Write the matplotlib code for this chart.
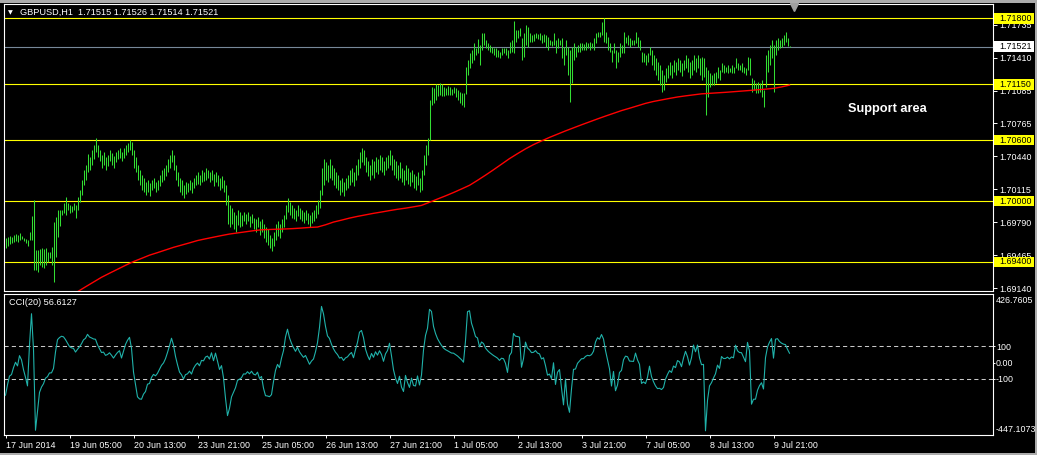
import numpy as np
import pandas as pd
import matplotlib
matplotlib.use("Agg")
import matplotlib.pyplot as plt
import matplotlib.transforms as mtransforms
from matplotlib.patches import Rectangle

plt.rcParams['font.family'] = ['Liberation Sans', 'DejaVu Sans']

# ---------------- data ----------------
symbol_header = "GBPUSD,H1  1.71515 1.71526 1.71514 1.71521"
cci_header = "CCI(20) 56.6127"

BASE = 1.69      # prices below are stored in pips above 1.6900
PIP = 0.0001

# 20 hourly bars before the first visible bar (needed for CCI(20))
pre_high_pips = [72, 74, 70, 73, 71, 75, 73, 70, 72, 74, 71, 69, 72, 70, 68, 71, 69, 67, 66, 65]
pre_low_pips = [62, 64, 61, 63, 62, 64, 65, 61, 63, 65, 62, 60, 63, 61, 60, 62, 61, 59, 58, 57]

high_pips = [
    64, 65, 66, 65, 67, 68, 67, 69, 66, 64,
    63, 62, 70, 85, 101, 52, 52, 53, 54, 53,
    54, 50, 50, 55, 79, 84, 91, 91, 91, 98,
    104, 98, 96, 95, 98, 96, 104, 111, 121, 131,
    136, 146, 143, 150, 155, 162, 155, 150, 145, 148,
    143, 145, 150, 147, 144, 148, 150, 152, 148, 152,
    155, 157, 160, 158, 150, 143, 136, 131, 126, 123,
    119, 121, 118, 121, 123, 119, 121, 126, 131, 133,
    136, 141, 145, 150, 145, 136, 129, 123, 121, 116,
    119, 118, 121, 119, 123, 126, 129, 126, 131, 129,
    133, 131, 129, 131, 127, 129, 126, 123, 125, 121,
    116, 106, 96, 93, 89, 86, 91, 89, 86, 89,
    87, 89, 85, 87, 83, 82, 84, 80, 82, 77,
    74, 72, 67, 64, 70, 77, 80, 77, 82, 86,
    96, 103, 99, 96, 93, 91, 96, 93, 91, 89,
    91, 88, 86, 89, 91, 96, 101, 111, 133, 141,
    138, 136, 141, 136, 133, 129, 126, 121, 123, 119,
    123, 126, 131, 133, 129, 136, 141, 148, 152, 150,
    143, 139, 136, 141, 139, 143, 141, 145, 143, 139,
    143, 145, 150, 145, 141, 139, 136, 138, 133, 131,
    136, 133, 129, 131, 127, 125, 129, 123, 131, 145,
    155, 162, 200, 212, 211, 215, 214, 216, 215, 212,
    211, 213, 212, 210, 212, 211, 209, 207, 206, 206,
    232, 239, 246, 249, 256, 251, 260, 254, 266, 266,
    259, 256, 254, 252, 251, 251, 249, 247, 251, 251,
    251, 249, 257, 259, 277, 268, 268, 270, 261, 266,
    273, 271, 266, 264, 265, 266, 265, 266, 264, 265,
    264, 262, 259, 258, 266, 259, 261, 259, 261, 252,
    259, 252, 249, 252, 256, 252, 254, 256, 256, 255,
    257, 256, 257, 256, 261, 266, 267, 267, 276, 280,
    267, 262, 256, 249, 256, 249, 247, 256, 254, 267,
    262, 264, 261, 259, 259, 267, 262, 259, 247, 246,
    244, 246, 252, 249, 244, 241, 237, 234, 229, 224,
    231, 234, 237, 234, 239, 237, 241, 239, 236, 239,
    244, 241, 237, 239, 244, 241, 244, 241, 242, 241,
    232, 229, 226, 224, 226, 227, 232, 229, 236, 234,
    232, 234, 231, 234, 232, 241, 236, 234, 236, 232,
    231, 242, 241, 221, 219, 216, 217, 216, 219, 209,
    244, 249, 254, 259, 254, 259, 261, 259, 261, 264,
    267, 261, 252.6,
]

low_pips = [
    54, 56, 58, 59, 60, 61, 60, 62, 63, 61,
    59, 56, 62, 62, 32, 32, 30, 37, 35, 34,
    37, 40, 44, 37, 20, 45, 65, 75, 86, 88,
    86, 91, 88, 89, 91, 83, 91, 99, 106, 116,
    121, 129, 131, 136, 141, 148, 143, 139, 133, 136,
    131, 135, 139, 136, 133, 138, 141, 142, 139, 142,
    145, 148, 150, 145, 133, 129, 121, 116, 111, 109,
    106, 109, 105, 111, 113, 109, 111, 115, 119, 121,
    125, 129, 133, 138, 131, 121, 115, 109, 106, 103,
    107, 109, 111, 108, 113, 116, 117, 116, 119, 120,
    121, 123, 119, 121, 115, 119, 115, 111, 113, 109,
    96, 77, 74, 77, 72, 70, 76, 74, 75, 80,
    77, 80, 74, 78, 72, 70, 74, 67, 70, 64,
    60, 57, 54, 51, 56, 62, 66, 64, 70, 74,
    82, 89, 86, 83, 82, 80, 85, 82, 80, 78,
    81, 77, 74, 78, 80, 83, 87, 93, 106, 116,
    121, 119, 123, 121, 116, 113, 111, 106, 109, 105,
    111, 113, 116, 119, 115, 121, 126, 133, 138, 136,
    129, 125, 121, 126, 123, 129, 127, 131, 129, 126,
    131, 133, 136, 131, 126, 123, 121, 123, 119, 116,
    121, 117, 115, 119, 113, 111, 116, 109, 111, 126,
    136, 145, 160, 195, 197, 200, 203, 204, 203, 203,
    204, 204, 204, 204, 206, 202, 200, 197, 195, 193,
    205, 224, 231, 236, 239, 244, 246, 234, 249, 254,
    251, 249, 247, 246, 244, 242, 242, 241, 244, 246,
    244, 241, 246, 247, 246, 257, 261, 263, 239, 242,
    254, 252, 257, 257, 258, 261, 260, 259, 256, 257,
    252, 249, 254, 253, 254, 246, 251, 254, 241, 234,
    244, 224, 198, 216, 239, 242, 247, 247, 249, 249,
    249, 251, 249, 251, 249, 256, 262, 262, 264, 257,
    256, 249, 247, 237, 246, 231, 237, 242, 246, 246,
    256, 254, 252, 254, 254, 256, 252, 249, 237, 237,
    234, 237, 244, 234, 229, 224, 219, 214, 207, 209,
    217, 221, 224, 221, 227, 224, 229, 227, 223, 229,
    231, 227, 221, 224, 229, 227, 231, 224, 219, 222,
    185, 202, 212, 214, 214, 216, 221, 219, 227, 226,
    227, 226, 227, 226, 226, 231, 229, 229, 227, 226,
    224, 229, 224, 207, 209, 206, 206, 207, 202, 193,
    212, 227, 234, 241, 207, 244, 249, 251, 252, 254,
    257, 253, 251.4,
]

# red moving average, read every 4th bar starting at bar 36
ma_first_bar = 36
ma_bar_step = 4
ma_pips = [
    10.7, 15.5, 20.2, 24.9, 28.9, 32.8, 36.7, 40.4, 43.5, 46.7,
    49.2, 51.8, 54.4, 56.6, 58.8, 61.1, 62.8, 64.4, 66.0, 67.5,
    68.6, 69.7, 70.8, 71.7, 72.0, 72.3, 72.5, 72.9, 73.4, 74.0,
    74.4, 76.6, 79.3, 81.2, 83.2, 84.9, 86.4, 87.9, 89.2, 90.6,
    91.9, 93.0, 94.3, 95.7, 98.8, 102.0, 105.1, 108.4, 111.9, 115.5,
    120.4, 125.5, 130.8, 136.3, 141.8, 146.7, 151.4, 155.6, 159.2, 162.7,
    165.9, 169.1, 172.1, 175.1, 178.0, 180.9, 183.7, 186.4, 189.1, 191.4,
    193.8, 196.2, 198.1, 199.6, 201.1, 202.5, 203.6, 204.6, 205.6, 206.1,
    206.6, 207.1, 207.7, 208.3, 208.9, 209.6, 210.2, 211.0, 212.4, 214.2,
]

levels = [1.71800, 1.71150, 1.70600, 1.70000, 1.69400]
level_labels = ["1.71800", "1.71150", "1.70600", "1.70000", "1.69400"]
current_price = 1.71521
current_label = "1.71521"
price_ticks = [1.71735, 1.71410, 1.71085, 1.70765, 1.70440, 1.70115, 1.69790, 1.69465, 1.69140]
price_min, price_max = 1.69114, 1.71938

cci_period = 20
cci_ticks = [100, 0, -100]
cci_tick_labels = ["100", "0.00", "-100"]
cci_min, cci_max = -447.1073, 426.7605
cci_max_label, cci_min_label = "426.7605", "-447.1073"

time_tick_bars = [0, 32, 64, 96, 128, 160, 192, 224, 256, 288, 320, 352, 384]
time_tick_labels = ["17 Jun 2014", "19 Jun 05:00", "20 Jun 13:00", "23 Jun 21:00",
                    "25 Jun 05:00", "26 Jun 13:00", "27 Jun 21:00", "1 Jul 05:00",
                    "2 Jul 13:00", "3 Jul 21:00", "7 Jul 05:00", "8 Jul 13:00",
                    "9 Jul 21:00"]

annotation_text = "Support area"
annotation_bar = 421
annotation_price = 1.7091
shift_marker_bar = 394

assert len(high_pips) == len(low_pips)
assert len(pre_high_pips) == len(pre_low_pips)

# ---------------- derived ----------------
high = BASE + np.array(high_pips) * PIP
low = BASE + np.array(low_pips) * PIP
n = len(high)
bars = np.arange(n)
ma = BASE + np.array(ma_pips) * PIP
ma_bars = np.arange(ma_first_bar, ma_first_bar + ma_bar_step * len(ma_pips), ma_bar_step)

all_high = np.concatenate([BASE + np.array(pre_high_pips) * PIP, high])
all_low = np.concatenate([BASE + np.array(pre_low_pips) * PIP, low])
tp = pd.Series((all_high + all_low) / 2.0)
sma = tp.rolling(cci_period).mean()
mad = tp.rolling(cci_period).apply(lambda w: np.mean(np.abs(w - w.mean())), raw=True)
cci = ((tp - sma) / (0.015 * mad)).values[len(pre_high_pips):]

# ---------------- figure ----------------
W, H = 1037, 455
fig = plt.figure(figsize=(W / 100, H / 100), dpi=100, facecolor="black")

def fx(px):
    return px / W

def fy(py):
    return 1 - py / H

L, R = 4, 992.5
ax = fig.add_axes([fx(L), fy(291), fx(R) - fx(L), fy(4.3) - fy(291)])
axc = fig.add_axes([fx(L), fy(435), fx(R) - fx(L), fy(293.5) - fy(435)], sharex=ax)

BAR = "#33dd33"
FS = 6.4
for a in (ax, axc):
    a.set_facecolor("black")
    for s in a.spines.values():
        s.set_color("white")
        s.set_linewidth(0.8)

ax.set_xlim(-0.75, 493.5)
ax.set_ylim(price_min, price_max)
axc.set_ylim(cci_min, cci_max)

# price bars
ax.vlines(bars, low, high, colors=BAR, linewidth=0.75, zorder=3)
# moving average
ax.plot(ma_bars, ma, color="#ff0000", linewidth=1.0, zorder=4)
# horizontal levels
for lv in levels:
    ax.axhline(lv, color="#ffff00", linewidth=0.8, zorder=2)
ax.axhline(current_price, color="#778899", linewidth=0.8, zorder=2)

# right price scale
ax.yaxis.tick_right()
ax.set_yticks(price_ticks)
ax.set_yticklabels([f"{v:.5f}" for v in price_ticks])
ax.tick_params(axis="y", colors="white", length=2.9, width=0.7, pad=1.8, labelsize=FS)
ax.tick_params(axis="x", bottom=False, labelbottom=False)

# level label boxes
trans = mtransforms.blended_transform_factory(fig.transFigure, ax.transData)
ax_h_px = (fy(4.3) - fy(291)) * H
price_per_px = (price_max - price_min) / ax_h_px
box_h = 10.7 * price_per_px
for lv, lab, fc in list(zip(levels, level_labels, ["#ffff00"] * len(levels))) + [(current_price, current_label, "white")]:
    ax.add_patch(Rectangle((fx(994.3), lv - box_h / 2), fx(1034) - fx(994.3), box_h,
                           transform=trans, facecolor=fc, edgecolor="none",
                           clip_on=False, zorder=5))
    ax.text(fx(999.3), lv, lab, transform=trans, ha="left", va="center",
            color="black", fontsize=FS, clip_on=False, zorder=6)

ax.text(annotation_bar, annotation_price, annotation_text, color="white",
        fontsize=9.2, fontweight="bold", ha="left", va="center", zorder=6)

ax.plot([shift_marker_bar], [price_max - 3 * price_per_px], marker="v", ms=5.5,
        color="#a0a0a0", clip_on=False, zorder=7, linestyle="none")

# CCI panel
axc.plot(bars, cci, color="#20b2aa", linewidth=0.8, zorder=3)
for lv in (100, -100):
    axc.axhline(lv, color="#c8c8c8", linewidth=0.75, linestyle=(0, (4, 3)), zorder=2)
axc.yaxis.tick_right()
axc.set_yticks(cci_ticks)
axc.set_yticklabels(cci_tick_labels)
axc.tick_params(axis="y", colors="white", length=1.4, width=0.7, pad=1.1, labelsize=FS)
axc.annotate(cci_max_label, xy=(1, 1), xycoords="axes fraction", xytext=(2.5, -5.2),
             textcoords="offset points", ha="left", va="center", color="white", fontsize=FS)
axc.annotate(cci_min_label, xy=(1, 0), xycoords="axes fraction", xytext=(2.0, 4.1),
             textcoords="offset points", ha="left", va="center", color="white", fontsize=FS)

axc.set_xticks(time_tick_bars)
axc.set_xticklabels(time_tick_labels)
axc.tick_params(axis="x", colors="white", length=1.8, width=0.7, pad=2.2, labelsize=FS)
for t in axc.get_xticklabels():
    t.set_horizontalalignment("left")

# header texts
fig.text(fx(8), fy(12.7), "\u25bc", color="white", fontsize=4.5, ha="left", va="center",
         family=["DejaVu Sans"])
fig.text(fx(20), fy(12.7), symbol_header, color="white", fontsize=6.6, ha="left", va="center")
fig.text(fx(9.3), fy(302.7), cci_header, color="white", fontsize=6.6, ha="left", va="center")

# window chrome
chrome = "#acacac"
fig.patches.extend([
    Rectangle((0, fy(2.7)), 1, 2.7 / H, transform=fig.transFigure, facecolor=chrome, edgecolor="none"),
    Rectangle((fx(1034.5), 0), 1 - fx(1034.5), 1, transform=fig.transFigure, facecolor=chrome, edgecolor="none"),
    Rectangle((0, 0), 1, 2.5 / H, transform=fig.transFigure, facecolor=chrome, edgecolor="none"),
])

fig.savefig("out.png", dpi=100, facecolor="black")
